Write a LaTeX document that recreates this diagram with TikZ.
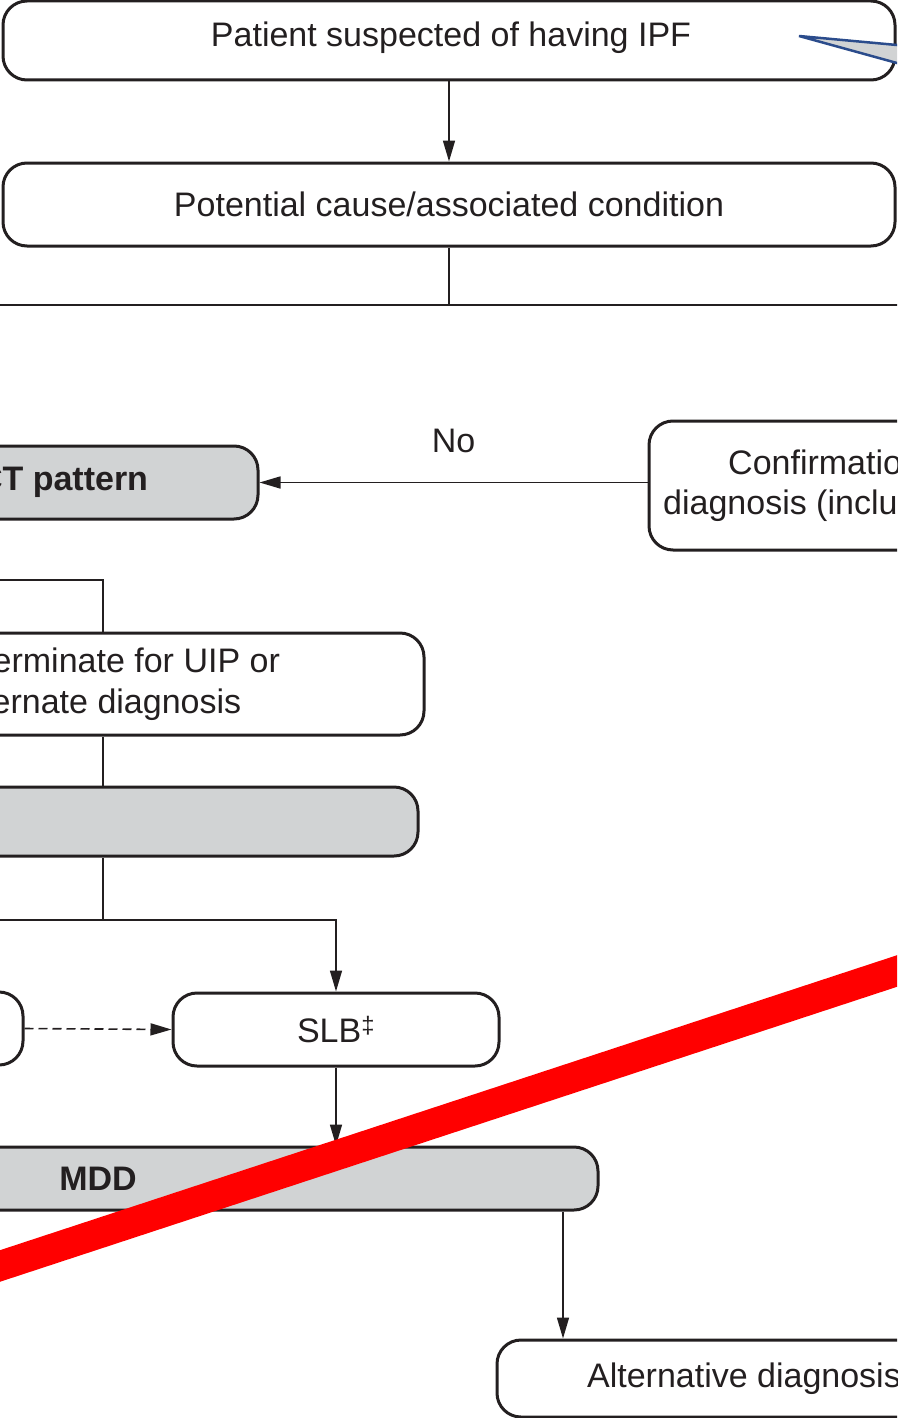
\documentclass[tikz,border=0pt]{standalone}
\usepackage{fontspec}
\setmainfont{Liberation Sans}
\usetikzlibrary{arrows.meta}
\definecolor{ink}{HTML}{231F20}
\definecolor{panel}{HTML}{D1D3D4}
\definecolor{callblue}{HTML}{2B4C8C}
\begin{document}
\begin{tikzpicture}[x=1pt,y=-1pt,
  box/.style={draw=ink, line width=3pt, rounded corners=24pt, inner sep=0pt,
    text=ink, font=\fontsize{34}{41}\selectfont, align=center},
  shaded/.style={box, fill=panel, font=\fontsize{34}{41}\selectfont\bfseries},
  link/.style={draw=ink, line width=1.6pt},
  arr/.style={link, -{Triangle[length=21pt,width=12pt]}},
  lbl/.style={text=ink, font=\fontsize{34}{41}\selectfont, inner sep=0pt},
]
\useasboundingbox (0,0) rectangle (897,1418);
\clip (0,0) rectangle (897,1418);

% boxes
\node[box, minimum width=892pt, minimum height=79pt] (patient) at (449,40.5) {};
\node[lbl, anchor=base] (patientText) at (451,47) {Patient suspected of having IPF};
\node[box, minimum width=892pt, minimum height=83pt] (cause) at (449,204.5) {Potential cause/associated condition};
\node[shaded, minimum width=439pt, minimum height=73pt] (hrct) at (38.5,482.5) {HRCT pattern};
\node[box, minimum width=420pt, minimum height=129pt] (conf) at (859,485.5) {};
\node[lbl, anchor=base west] (confa) at (728,474) {Confirmation};
\node[lbl, anchor=base west] (confb) at (663,514) {diagnosis (including};
\node[box, minimum width=651pt, minimum height=102pt] (indet) at (98.5,684) {Indeterminate for UIP or\\alternate diagnosis};
\node[shaded, minimum width=639pt, minimum height=69pt] (probe) at (98.5,821.5) {};
\node[box, minimum width=346pt, minimum height=73pt] (side) at (-150,1028.5) {};
\node[box, minimum width=326pt, minimum height=73pt] (slb) at (336,1029.5) {SLB\textsuperscript{‡}};
\node[shaded, minimum width=1000pt, minimum height=63pt] (mdd) at (98,1178.5) {MDD};
\node[box, minimum width=494pt, minimum height=77pt] (alt) at (744,1378.5) {Alternative diagnosis};

% junction points
\coordinate (splitL) at (-10,305);
\coordinate (splitR) at (907,305);
\coordinate (inL) at (-10,580);
\coordinate (trunk) at (103,580);
\coordinate (forkL) at (-10,920);
\coordinate (fork) at (103,920);
\coordinate (drop) at (563,0);

% connectors
\draw[arr] (patient.south) -- (cause.north);
\draw[link] (cause.south) -- (cause.south |- splitL);
\draw[link] (splitL) -- (splitR);
\draw[arr] (conf.west |- hrct.east) -- node[lbl, midway, above=29pt] (no) {No} (hrct.east);
\draw[link] (inL) -- (trunk) -- (trunk |- indet.north);
\draw[link] (trunk |- indet.south) -- (trunk |- probe.north);
\draw[link] (trunk |- probe.south) -- (fork);
\draw[arr] (forkL) -- (slb.north |- forkL) -- (slb.north);
\draw[arr, dashed, dash pattern=on 9pt off 5pt] (side.east) -- (slb.west);
\draw[arr] (slb.south) -- (slb.south |- mdd.north);
\draw[arr] (mdd.south -| drop) -- (alt.north -| drop);

% callout pointer
\coordinate (tip) at (799,36);
\coordinate (pu) at (910,46.2);
\coordinate (pl) at (910,66.6);
\fill[panel] (tip) -- (pu) -- (pl) -- cycle;
\draw[callblue, line width=2.5pt, line join=miter] (pu) -- (tip) -- (pl);

% red strike
\draw[red, line width=30pt] (-60,1285.7) -- (960,950.3);
\end{tikzpicture}
\end{document}
